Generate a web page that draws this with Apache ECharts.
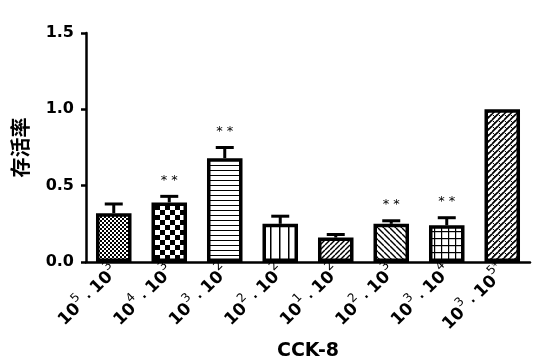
<!DOCTYPE html>
<html>
<head>
<meta charset="utf-8">
<script src="https://cdn.jsdelivr.net/npm/echarts@6/dist/echarts.min.js"></script>
<style>html,body{margin:0;padding:0;background:#fff;}#c{width:533px;height:363px;}</style>
</head>
<body>
<div id="c"></div>
<script>
// ---- data ----
var categories = [['5','3'],['4','3'],['3','2'],['2','2'],['1','2'],['2','3'],['3','4'],['3','5*']];
var values = [0.32, 0.39, 0.68, 0.25, 0.16, 0.25, 0.24, 1.0];
var errors = [0.06, 0.04, 0.07, 0.05, 0.02, 0.02, 0.05, 0.0];
var sigLabels = ['', '**', '**', '', '', '**', '**', ''];
var yTicks = [0, 0.5, 1.0, 1.5];

function makePattern(type) {
  var sizes = { fine: 4, checker: 10, hlines: 5, vlines: 9, diag1: 5, diag2: 6, grid: 7, cross: 6 };
  var s = sizes[type];
  var c = document.createElement('canvas');
  c.width = s; c.height = s;
  var g = c.getContext('2d');
  g.fillStyle = '#fff'; g.fillRect(0, 0, s, s);
  g.fillStyle = '#000'; g.strokeStyle = '#000';
  if (type === 'fine') {
    g.fillRect(0, 0, 2, 2); g.fillRect(2, 2, 2, 2);
  } else if (type === 'checker') {
    g.fillRect(0, 0, 5, 5); g.fillRect(5, 5, 5, 5);
  } else if (type === 'hlines') {
    g.fillRect(0, 0, s, 1);
  } else if (type === 'vlines') {
    g.fillRect(0, 0, 1.5, s);
  } else if (type === 'grid') {
    g.fillRect(0, 0, s, 1.2); g.fillRect(0, 0, 1.2, s);
  } else if (type === 'diag1' || type === 'cross') {
    g.lineWidth = type === 'cross' ? 1.7 : 1.4;
    for (var k = -1; k <= 1; k++) {
      g.beginPath(); g.moveTo(k * s, s); g.lineTo(k * s + s, 0); g.stroke();
    }
    if (type === 'cross') {
      g.lineWidth = 1;
      g.beginPath(); g.moveTo(0.5, 0.5); g.lineTo(s * 0.45, s * 0.45); g.stroke();
    }
  } else if (type === 'diag2') {
    g.lineWidth = 1.4;
    for (var k2 = -1; k2 <= 1; k2++) {
      g.beginPath(); g.moveTo(k2 * s, 0); g.lineTo(k2 * s + s, s); g.stroke();
    }
  }
  return { image: c, repeat: 'repeat' };
}
var patternTypes = ['fine', 'checker', 'hlines', 'vlines', 'diag1', 'diag2', 'grid', 'cross'];

var chart = echarts.init(document.getElementById('c'), null, { renderer: 'canvas' });
var barData = values.map(function (v, i) {
  return { value: v, itemStyle: { color: makePattern(patternTypes[i]) } };
});
var errData = values.map(function (v, i) { return [i, v, v + errors[i]]; });

chart.setOption({
  animation: false,
  backgroundColor: '#fff',
  grid: { left: 86, right: 3, top: 33, bottom: 101, outerBoundsMode: 'none', containLabel: false },
  xAxis: {
    type: 'category',
    data: categories.map(function (c, i) { return String(i); }),
    name: 'CCK-8',
    nameLocation: 'middle',
    nameGap: 80,
    nameTextStyle: { fontFamily: 'DejaVu Sans', fontWeight: 'bold', fontSize: 19, color: '#000' },
    axisLine: { lineStyle: { color: '#000', width: 2.5 } },
    axisTick: { alignWithLabel: true, length: 6, lineStyle: { color: '#000', width: 2.5 } },
    axisLabel: {
      interval: 0,
      rotate: 45,
      margin: 5,
      formatter: function (v) {
        var c = categories[+v];
        return '{b|10}{s|' + c[0] + '}{d| · }{b|10}{s|' + c[1] + '}';
      },
      rich: {
        b: { fontFamily: 'DejaVu Sans', fontWeight: 'bold', fontSize: 17, color: '#000', verticalAlign: 'bottom', lineHeight: 22 },
        d: { fontFamily: 'DejaVu Sans', fontWeight: 'bold', fontSize: 13, color: '#000', verticalAlign: 'bottom', lineHeight: 22 },
        s: { fontFamily: 'DejaVu Sans', fontSize: 12, color: '#000', verticalAlign: 'top', lineHeight: 22 }
      }
    }
  },
  yAxis: {
    type: 'value',
    min: 0, max: 1.5, interval: 0.5,
    name: '存活率',
    nameLocation: 'middle',
    nameRotate: 90,
    nameGap: 56,
    nameTextStyle: { fontFamily: 'Noto Sans CJK SC', fontWeight: 'bold', fontSize: 20, color: '#000' },
    splitLine: { show: false },
    axisLine: { show: true, lineStyle: { color: '#000', width: 2.5 } },
    axisTick: { show: true, length: 5, lineStyle: { color: '#000', width: 2.5 } },
    axisLabel: {
      margin: 12,
      formatter: function (v) { return yTicks.indexOf(v) >= 0 ? v.toFixed(1) : ''; },
      fontFamily: 'DejaVu Sans', fontWeight: 'bold', fontSize: 16, color: '#000'
    }
  },
  series: [
    {
      type: 'bar',
      data: barData,
      barWidth: '64%',
      itemStyle: { borderColor: '#000', borderWidth: 3.5 },
      z: 2
    },
    {
      type: 'custom',
      data: errData,
      z: 3,
      renderItem: function (params, api) {
        var x = api.value(0);
        var p0 = api.coord([x, api.value(1)]);
        var p1 = api.coord([x, api.value(2)]);
        var children = [];
        if (api.value(2) > api.value(1)) {
          children.push({ type: 'line', shape: { x1: p0[0], y1: p0[1], x2: p1[0], y2: p1[1] }, style: { stroke: '#000', lineWidth: 3 } });
          children.push({ type: 'line', shape: { x1: p1[0] - 9, y1: p1[1], x2: p1[0] + 9, y2: p1[1] }, style: { stroke: '#000', lineWidth: 3 } });
        }
        var lab = sigLabels[params.dataIndex];
        if (lab) {
          children.push({ type: 'text', x: p1[0], y: p1[1] - 16, style: { text: '* *', fill: '#000', font: '13px DejaVu Sans', align: 'center', verticalAlign: 'middle' } });
        }
        return { type: 'group', children: children };
      }
    }
  ]
});
</script>
</body>
</html>
